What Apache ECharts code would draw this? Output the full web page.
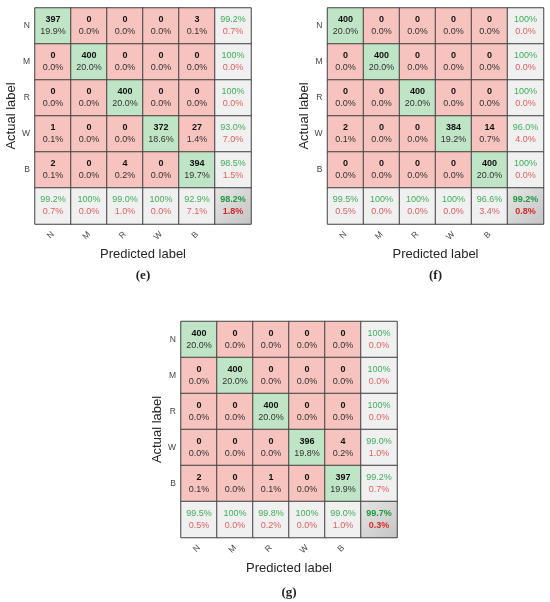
<!DOCTYPE html>
<html>
<head>
<meta charset="utf-8">
<script src="https://cdn.jsdelivr.net/npm/echarts@6/dist/echarts.min.js"></script>
<style>
  html, body { margin: 0; padding: 0; background: #fff; }
  #chart { width: 550px; height: 602px; }
</style>
</head>
<body>
<div id="chart"></div>
<script>
var chart = echarts.init(document.getElementById('chart'));

const classes = ['N', 'M', 'R', 'W', 'B'];

// panel (e)
const countsE = [
  [397, 0, 0, 0, 3],
  [0, 400, 0, 0, 0],
  [0, 0, 400, 0, 0],
  [1, 0, 0, 372, 27],
  [2, 0, 4, 0, 394]
];
const pctE = [
  [19.9, 0, 0, 0, 0.1],
  [0, 20.0, 0, 0, 0],
  [0, 0, 20.0, 0, 0],
  [0.1, 0, 0, 18.6, 1.4],
  [0.1, 0, 0.2, 0, 19.7]
];
const rowOkE = [99.2, 100, 100, 93.0, 98.5];
const rowErrE = [0.7, 0.0, 0.0, 7.0, 1.5];
const colOkE = [99.2, 100, 99.0, 100, 92.9];
const colErrE = [0.7, 0.0, 1.0, 0.0, 7.1];
const totalE = [98.2, 1.8];

// panel (f)
const countsF = [
  [400, 0, 0, 0, 0],
  [0, 400, 0, 0, 0],
  [0, 0, 400, 0, 0],
  [2, 0, 0, 384, 14],
  [0, 0, 0, 0, 400]
];
const pctF = [
  [20.0, 0, 0, 0, 0],
  [0, 20.0, 0, 0, 0],
  [0, 0, 20.0, 0, 0],
  [0.1, 0, 0, 19.2, 0.7],
  [0, 0, 0, 0, 20.0]
];
const rowOkF = [100, 100, 100, 96.0, 100];
const rowErrF = [0.0, 0.0, 0.0, 4.0, 0.0];
const colOkF = [99.5, 100, 100, 100, 96.6];
const colErrF = [0.5, 0.0, 0.0, 0.0, 3.4];
const totalF = [99.2, 0.8];

// panel (g)
const countsG = [
  [400, 0, 0, 0, 0],
  [0, 400, 0, 0, 0],
  [0, 0, 400, 0, 0],
  [0, 0, 0, 396, 4],
  [2, 0, 1, 0, 397]
];
const pctG = [
  [20.0, 0, 0, 0, 0],
  [0, 20.0, 0, 0, 0],
  [0, 0, 20.0, 0, 0],
  [0, 0, 0, 19.8, 0.2],
  [0.1, 0, 0.1, 0, 19.9]
];
const rowOkG = [100, 100, 100, 99.0, 99.2];
const rowErrG = [0.0, 0.0, 0.0, 1.0, 0.7];
const colOkG = [99.5, 100, 99.8, 100, 99.0];
const colErrG = [0.5, 0.0, 0.2, 0.0, 1.0];
const totalG = [99.7, 0.3];

const GREEN = '#bfe5c6';
const RED = '#f6c3bf';
const GRAY = '#f0f0f0';
const FONT = 'Liberation Sans';

function fmt(v) {
  return v === 100 ? '100%' : v.toFixed(1) + '%';
}

function buildData(counts, pct, rowOk, rowErr, colOk, colErr, total) {
  var data = [];
  var n = classes.length;
  for (var r = 0; r < n; r++) {
    for (var c = 0; c < n; c++) {
      data.push({
        value: [c, r, counts[r][c]],
        itemStyle: { color: r === c ? GREEN : RED },
        label: { formatter: '{a|' + counts[r][c] + '}\n{b|' + fmt(pct[r][c]) + '}' }
      });
    }
    data.push({
      value: [n, r, rowOk[r]],
      itemStyle: { color: GRAY },
      label: { formatter: '{g|' + fmt(rowOk[r]) + '}\n{e|' + fmt(rowErr[r]) + '}' }
    });
  }
  for (var c2 = 0; c2 < n; c2++) {
    data.push({
      value: [c2, n, colOk[c2]],
      itemStyle: { color: GRAY },
      label: { formatter: '{g|' + fmt(colOk[c2]) + '}\n{e|' + fmt(colErr[c2]) + '}' }
    });
  }
  data.push({
    value: [n, n, total[0]],
    itemStyle: {
      color: {
        type: 'linear', x: 0, y: 0, x2: 1, y2: 1,
        colorStops: [{ offset: 0, color: '#e6e6e6' }, { offset: 1, color: '#c4c4c4' }]
      }
    },
    label: { formatter: '{G|' + fmt(total[0]) + '}\n{E|' + fmt(total[1]) + '}' }
  });
  return data;
}

const rich = {
  a: { fontFamily: FONT, fontSize: 9, fontWeight: 'bold', color: '#111', lineHeight: 12 },
  b: { fontFamily: FONT, fontSize: 9, color: '#333', lineHeight: 12 },
  g: { fontFamily: FONT, fontSize: 9, color: '#3fae5a', lineHeight: 12 },
  e: { fontFamily: FONT, fontSize: 9, color: '#e06060', lineHeight: 12 },
  G: { fontFamily: FONT, fontSize: 9, fontWeight: 'bold', color: '#1e9a3c', lineHeight: 12 },
  E: { fontFamily: FONT, fontSize: 9, fontWeight: 'bold', color: '#d42828', lineHeight: 12 }
};

const panels = [
  { left: 35, top: 8, tag: '(e)', tagGap: 52, d: buildData(countsE, pctE, rowOkE, rowErrE, colOkE, colErrE, totalE) },
  { left: 327.5, top: 8, tag: '(f)', tagGap: 52, d: buildData(countsF, pctF, rowOkF, rowErrF, colOkF, colErrF, totalF) },
  { left: 181, top: 321.5, tag: '(g)', tagGap: 55, d: buildData(countsG, pctG, rowOkG, rowErrG, colOkG, colErrG, totalG) }
];
const SIZE = 216;

var grids = [], xAxes = [], yAxes = [], series = [], graphics = [];
panels.forEach(function (p, i) {
  grids.push({ left: p.left, top: p.top, width: SIZE, height: SIZE });
  xAxes.push({
    type: 'category',
    gridIndex: i,
    data: classes.concat(['']),
    name: 'Predicted label',
    nameLocation: 'middle',
    nameGap: 24,
    nameTextStyle: { fontFamily: FONT, fontSize: 13, color: '#262626' },
    axisLine: { show: false },
    axisTick: { show: false },
    splitLine: { show: false },
    axisLabel: { rotate: 45, margin: 9, fontFamily: FONT, fontSize: 8.5, color: '#444' }
  });
  yAxes.push({
    type: 'category',
    gridIndex: i,
    inverse: true,
    data: classes.concat(['']),
    name: 'Actual label',
    nameLocation: 'middle',
    nameGap: 16,
    nameTextStyle: { fontFamily: FONT, fontSize: 13, color: '#262626' },
    axisLine: { show: false },
    axisTick: { show: false },
    splitLine: { show: false },
    axisLabel: { margin: 5, fontFamily: FONT, fontSize: 8.5, color: '#444' }
  });
  series.push({
    type: 'heatmap',
    xAxisIndex: i,
    yAxisIndex: i,
    data: p.d,
    itemStyle: { borderColor: '#404040', borderWidth: 1 },
    label: { show: true, rich: rich, lineHeight: 12 },
    emphasis: { disabled: true }
  });
  graphics.push({
    type: 'text',
    x: p.left + SIZE / 2,
    y: p.top + SIZE + p.tagGap,
    style: {
      text: p.tag,
      font: 'bold 13px "Liberation Serif"',
      fill: '#222',
      textAlign: 'center',
      textVerticalAlign: 'middle'
    }
  });
});

var option = {
  animation: false,
  grid: grids,
  xAxis: xAxes,
  yAxis: yAxes,
  series: series,
  graphic: graphics
};

option && chart.setOption(option);
</script>
</body>
</html>
